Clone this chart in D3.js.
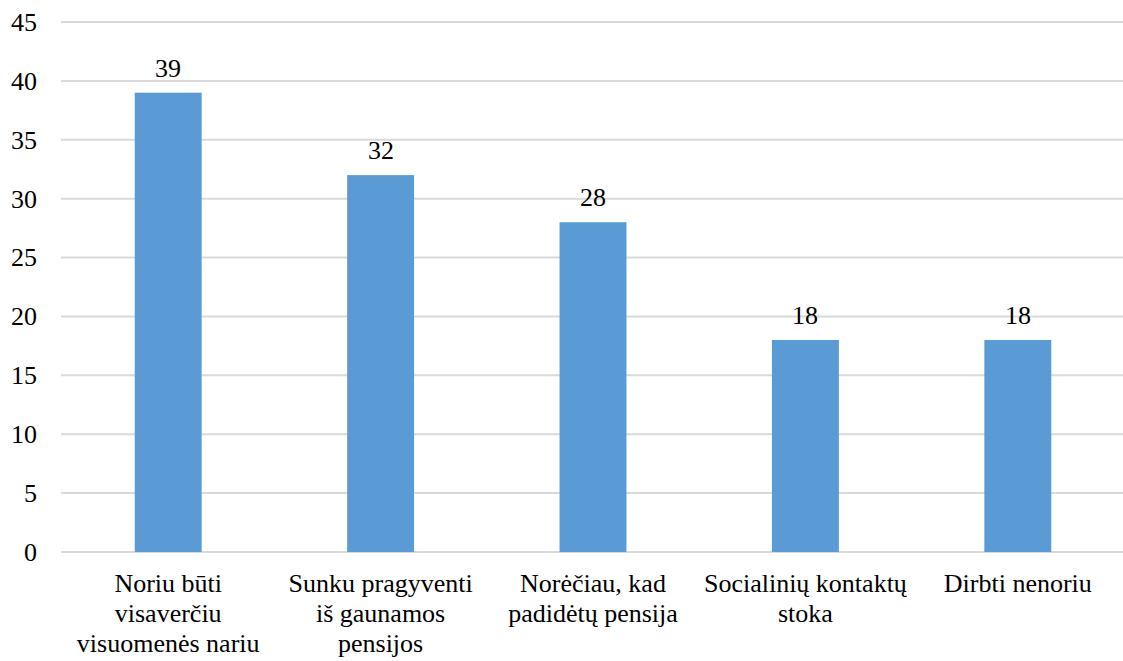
<!DOCTYPE html>
<html>
<head>
<meta charset="utf-8">
<script src="https://cdn.jsdelivr.net/npm/d3@7"></script>
<style>
  @font-face { font-family: "ChartSerif"; src: local("Liberation Serif"), local("LiberationSerif"), local("Times New Roman"); }
</style>
</head>
<body style="margin:0;background:#fff">
<svg id="chart" width="1123" height="661" style="display:block"></svg>
<script>
// Survey reasons, percentage of respondents
const categories = [
  ["Noriu būti", "visaverčiu", "visuomenės nariu"],
  ["Sunku pragyventi", "iš gaunamos", "pensijos"],
  ["Norėčiau, kad", "padidėtų pensija"],
  ["Socialinių kontaktų", "stoka"],
  ["Dirbti nenoriu"]
];
const values = [39, 32, 28, 18, 18];
const yTicks = [0, 5, 10, 15, 20, 25, 30, 35, 40, 45];

const width = 1123, height = 661;
const margin = { top: 22, right: -1, bottom: 109, left: 62 };
const fontSize = 26;

const svg = d3.select("#chart");
const keys = categories.map((c, i) => i);

const x = d3.scaleBand()
  .domain(keys)
  .range([margin.left, width - margin.right])
  .padding(0);

const y = d3.scaleLinear()
  .domain([0, 45])
  .range([height - margin.bottom, margin.top]);

const barW = x.bandwidth() * 0.315;

// gridlines
svg.append("g")
  .selectAll("line")
  .data(yTicks)
  .join("line")
  .attr("x1", margin.left - 1)
  .attr("x2", width)
  .attr("y1", d => y(d))
  .attr("y2", d => y(d))
  .attr("stroke", "#d9d9d9")
  .attr("stroke-width", 2);

// y axis labels
svg.append("g")
  .selectAll("text")
  .data(yTicks)
  .join("text")
  .attr("x", margin.left - 25)
  .attr("y", d => y(d))
  .attr("dy", "0.34em")
  .attr("text-anchor", "end")
  .attr("font-family", "Times New Roman")
  .attr("font-size", fontSize)
  .attr("fill", "#000")
  .text(d => d);

// bars
svg.append("g")
  .selectAll("rect")
  .data(values)
  .join("rect")
  .attr("x", (d, i) => x(i) + x.bandwidth() / 2 - barW / 2)
  .attr("width", barW)
  .attr("y", d => y(d))
  .attr("height", d => y(0) - y(d))
  .attr("fill", "#5b9bd5");

// value labels
svg.append("g")
  .selectAll("text")
  .data(values)
  .join("text")
  .attr("x", (d, i) => x(i) + x.bandwidth() / 2)
  .attr("y", d => y(d) - 16)
  .attr("text-anchor", "middle")
  .attr("font-family", "ChartSerif")
  .attr("font-size", fontSize)
  .attr("fill", "#000")
  .text(d => d);

// category labels, one text per line
categories.forEach((lines, i) => {
  svg.append("g")
    .selectAll("text")
    .data(lines)
    .join("text")
    .attr("x", x(i) + x.bandwidth() / 2)
    .attr("y", (d, j) => y(0) + 40 + j * 30)
    .attr("text-anchor", "middle")
    .attr("font-family", "serif")
    .attr("font-size", fontSize)
    .attr("fill", "#000")
    .text(d => d);
});
</script>
</body>
</html>
